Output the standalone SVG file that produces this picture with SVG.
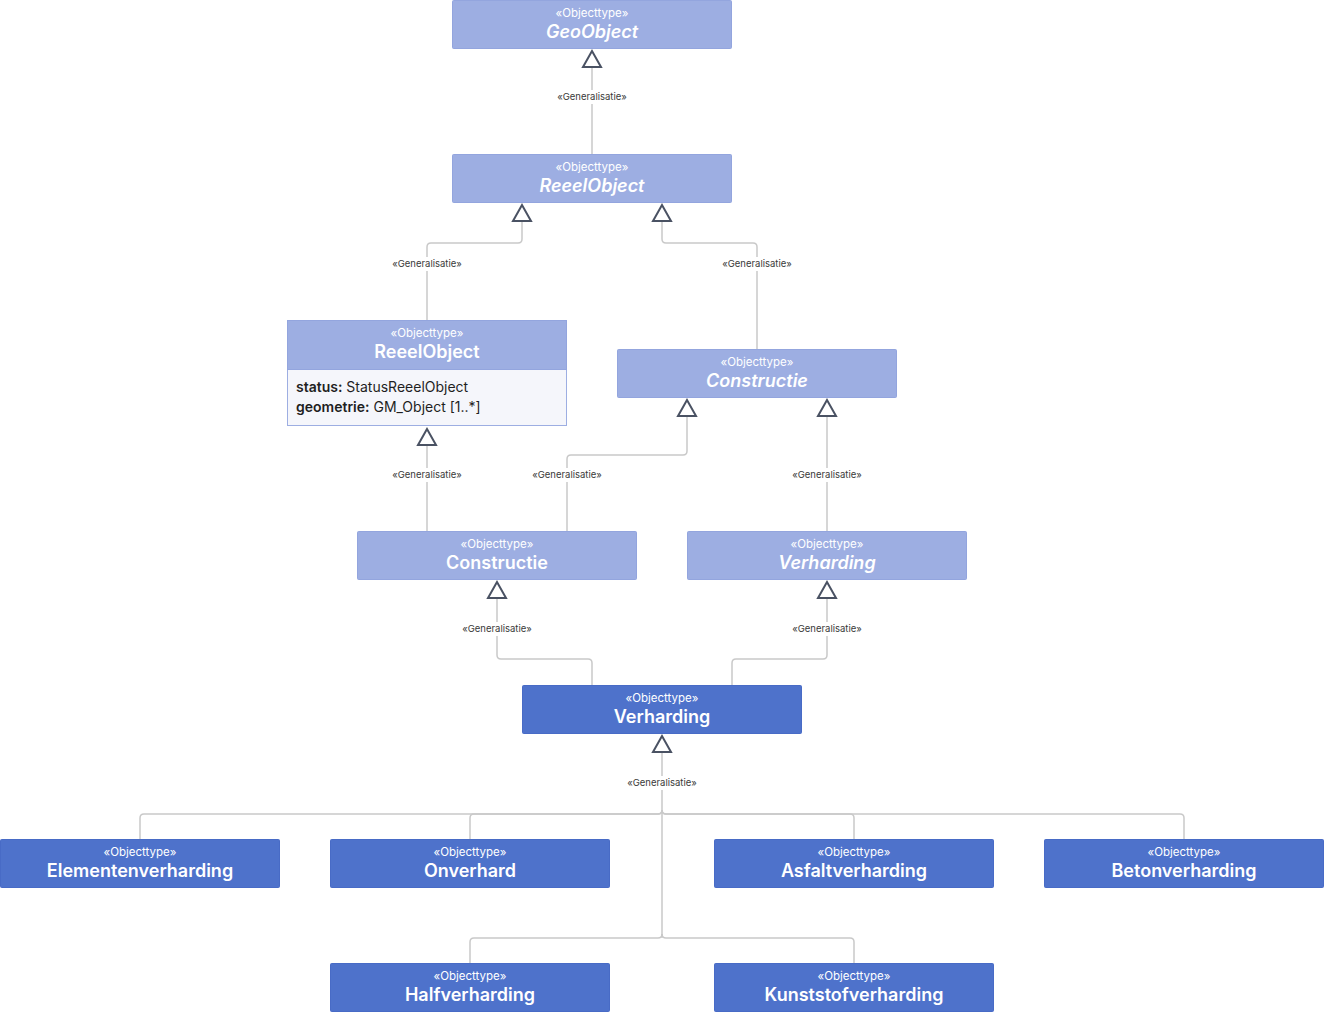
<svg xmlns="http://www.w3.org/2000/svg" width="1324" height="1012" viewBox="0 0 1324 1012">
<style>
.lt{fill:#9daee2;stroke:#93a5de;stroke-width:1}
.dk{fill:#4e72cb;stroke:#486bc6;stroke-width:1}
.st{font-family:Inter,"Noto Sans",sans-serif;font-size:11.5px;fill:#ffffff;text-anchor:middle}
.nm{font-family:Inter,"Noto Sans",sans-serif;font-size:18px;font-weight:600;fill:#ffffff;text-anchor:middle}
.it{font-style:italic}
.at{font-family:Inter,"Noto Sans",sans-serif;font-size:14px;fill:#1f1f1f}
.atb{font-weight:600}
.ln{fill:none;stroke:#c9c9c9;stroke-width:1.5}
.tri{fill:#ffffff;stroke:#4a5263;stroke-width:2;stroke-linejoin:miter}
.lb{font-family:Inter,"Noto Sans",sans-serif;font-size:9.5px;fill:#3a3a3a;text-anchor:middle}
.lbg{fill:#ffffff}
</style>
<rect width="1324" height="1012" fill="#ffffff"/>
<g id="connectors">
<path class="ln" d="M592 67 V154"/>
<path class="ln" d="M522 221 V239 Q522 243 518 243 H431 Q427 243 427 247 V320"/>
<path class="ln" d="M662 221 V239 Q662 243 666 243 H753 Q757 243 757 247 V349"/>
<path class="ln" d="M427 445 V531"/>
<path class="ln" d="M687 416 V451 Q687 455 683 455 H571 Q567 455 567 459 V531"/>
<path class="ln" d="M827 416 V531"/>
<path class="ln" d="M497 598 V655 Q497 659 501 659 H588 Q592 659 592 663 V685"/>
<path class="ln" d="M827 598 V655 Q827 659 823 659 H736 Q732 659 732 663 V685"/>
<path class="ln" d="M662 752 V938"/>
<path class="ln" d="M662 810 Q662 814 658 814 H144 Q140 814 140 818 V839"/>
<path class="ln" d="M662 810 Q662 814 658 814 H474 Q470 814 470 818 V839"/>
<path class="ln" d="M662 810 Q662 814 666 814 H850 Q854 814 854 818 V839"/>
<path class="ln" d="M662 810 Q662 814 666 814 H1180 Q1184 814 1184 818 V839"/>
<path class="ln" d="M662 934 Q662 938 658 938 H474 Q470 938 470 942 V963"/>
<path class="ln" d="M662 934 Q662 938 666 938 H850 Q854 938 854 942 V963"/>
<polygon class="tri" points="592,51 583,67 601,67"/>
<polygon class="tri" points="522,205 513,221 531,221"/>
<polygon class="tri" points="662,205 653,221 671,221"/>
<polygon class="tri" points="427,429 418,445 436,445"/>
<polygon class="tri" points="687,400 678,416 696,416"/>
<polygon class="tri" points="827,400 818,416 836,416"/>
<polygon class="tri" points="497,582 488,598 506,598"/>
<polygon class="tri" points="827,582 818,598 836,598"/>
<polygon class="tri" points="662,736 653,752 671,752"/>
<rect class="lbg" x="554" y="90" width="76" height="14"/>
<text class="lb" x="592" y="100">«Generalisatie»</text>
<rect class="lbg" x="389" y="257" width="76" height="14"/>
<text class="lb" x="427" y="267">«Generalisatie»</text>
<rect class="lbg" x="719" y="257" width="76" height="14"/>
<text class="lb" x="757" y="267">«Generalisatie»</text>
<rect class="lbg" x="389" y="468" width="76" height="14"/>
<text class="lb" x="427" y="478">«Generalisatie»</text>
<rect class="lbg" x="529" y="468" width="76" height="14"/>
<text class="lb" x="567" y="478">«Generalisatie»</text>
<rect class="lbg" x="789" y="468" width="76" height="14"/>
<text class="lb" x="827" y="478">«Generalisatie»</text>
<rect class="lbg" x="459" y="622" width="76" height="14"/>
<text class="lb" x="497" y="632">«Generalisatie»</text>
<rect class="lbg" x="789" y="622" width="76" height="14"/>
<text class="lb" x="827" y="632">«Generalisatie»</text>
<rect class="lbg" x="624" y="776" width="76" height="14"/>
<text class="lb" x="662" y="786">«Generalisatie»</text>
</g>
<g id="geoobject">
<rect class="lt" x="452.5" y="0.5" width="279" height="48" rx="1"/>
<text class="st" x="592" y="17">«Objecttype»</text>
<text class="nm it" x="592" y="38">GeoObject</text>
</g>
<g id="reeelobject-abstract">
<rect class="lt" x="452.5" y="154.5" width="279" height="48" rx="1"/>
<text class="st" x="592" y="171">«Objecttype»</text>
<text class="nm it" x="592" y="192">ReeelObject</text>
</g>
<g id="reeelobject">
<rect x="287.5" y="320.5" width="279" height="105" fill="#f5f6fb" stroke="#9daee2" stroke-width="1"/>
<rect class="lt" x="287.5" y="320.5" width="279" height="49"/>
<text class="st" x="427" y="337">«Objecttype»</text>
<text class="nm" x="427" y="358">ReeelObject</text>
<text class="at" x="296" y="392"><tspan class="atb">status:</tspan> StatusReeelObject</text>
<text class="at" x="296" y="412"><tspan class="atb">geometrie:</tspan> GM_Object [1..*]</text>
</g>
<g id="constructie-abstract">
<rect class="lt" x="617.5" y="349.5" width="279" height="48" rx="1"/>
<text class="st" x="757" y="366">«Objecttype»</text>
<text class="nm it" x="757" y="387">Constructie</text>
</g>
<g id="constructie">
<rect class="lt" x="357.5" y="531.5" width="279" height="48" rx="1"/>
<text class="st" x="497" y="548">«Objecttype»</text>
<text class="nm" x="497" y="569">Constructie</text>
</g>
<g id="verharding-abstract">
<rect class="lt" x="687.5" y="531.5" width="279" height="48" rx="1"/>
<text class="st" x="827" y="548">«Objecttype»</text>
<text class="nm it" x="827" y="569">Verharding</text>
</g>
<g id="verharding">
<rect class="dk" x="522.5" y="685.5" width="279" height="48" rx="1"/>
<text class="st" x="662" y="702">«Objecttype»</text>
<text class="nm" x="662" y="723">Verharding</text>
</g>
<g id="elementenverharding">
<rect class="dk" x="0.5" y="839.5" width="279" height="48" rx="1"/>
<text class="st" x="140" y="856">«Objecttype»</text>
<text class="nm" x="140" y="877">Elementenverharding</text>
</g>
<g id="onverhard">
<rect class="dk" x="330.5" y="839.5" width="279" height="48" rx="1"/>
<text class="st" x="470" y="856">«Objecttype»</text>
<text class="nm" x="470" y="877">Onverhard</text>
</g>
<g id="asfaltverharding">
<rect class="dk" x="714.5" y="839.5" width="279" height="48" rx="1"/>
<text class="st" x="854" y="856">«Objecttype»</text>
<text class="nm" x="854" y="877">Asfaltverharding</text>
</g>
<g id="betonverharding">
<rect class="dk" x="1044.5" y="839.5" width="279" height="48" rx="1"/>
<text class="st" x="1184" y="856">«Objecttype»</text>
<text class="nm" x="1184" y="877">Betonverharding</text>
</g>
<g id="halfverharding">
<rect class="dk" x="330.5" y="963.5" width="279" height="48" rx="1"/>
<text class="st" x="470" y="980">«Objecttype»</text>
<text class="nm" x="470" y="1001">Halfverharding</text>
</g>
<g id="kunststofverharding">
<rect class="dk" x="714.5" y="963.5" width="279" height="48" rx="1"/>
<text class="st" x="854" y="980">«Objecttype»</text>
<text class="nm" x="854" y="1001">Kunststofverharding</text>
</g>
</svg>
